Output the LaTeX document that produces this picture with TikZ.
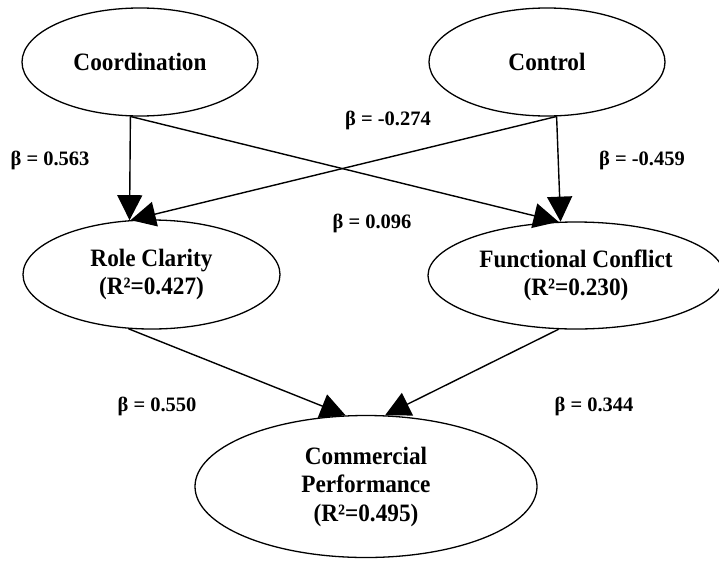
\documentclass[tikz,border=0pt]{standalone}
\usepackage{fontspec}
\setmainfont{Liberation Serif}
\newfontfamily\constructfont[FakeStretch=0.93]{Liberation Serif}
\usetikzlibrary{shapes.geometric,arrows.meta}

\begin{document}
\begin{tikzpicture}[x=1pt,y=-1pt,
  construct/.style={ellipse,draw,line width=1.3pt,inner sep=0pt,align=center,
    font=\constructfont\fontsize{25}{28.5}\selectfont\bfseries},
  effect/.style={line width=1.4pt,-{Triangle[length=25pt,width=25pt]}},
  coef/.style={font=\fontsize{20.5}{24}\selectfont\bfseries}]
\useasboundingbox (0,0) rectangle (719,560);
\node [construct,minimum width=236,minimum height=108] (coord) at (140,62) {Coordination};
\node [construct,minimum width=236,minimum height=108] (ctrl) at (547,62) {Control};
\node [construct,minimum width=257,minimum height=109] (role) at (151.5,274.5) {Role Clarity\\(R²=0.427)};
\node [construct,minimum width=296,minimum height=107] (func) at (576,275.5) {Functional Conflict\\(R²=0.230)};
\node [construct,minimum width=342,minimum height=142] (perf) at (366,486.5) {Commercial\\Performance\\(R²=0.495)};
  \foreach \from/\to in {coord.260/role.112,coord.260/func.108,ctrl.280/func.106,
    ctrl.280/role.111,role.247/perf.106,func.252/perf.75}
  {  \draw [effect] (\from) -- (\to);}
  \foreach \val/\x/\y [count=\i] in {0.563/50/160,-0.274/388/120,-0.459/642/160,
    0.096/372/223,0.550/157/406,0.344/594/406}
  {  \node [coef] (beta\i) at (\x,\y) {β = \val};}
\end{tikzpicture}
\end{document}
